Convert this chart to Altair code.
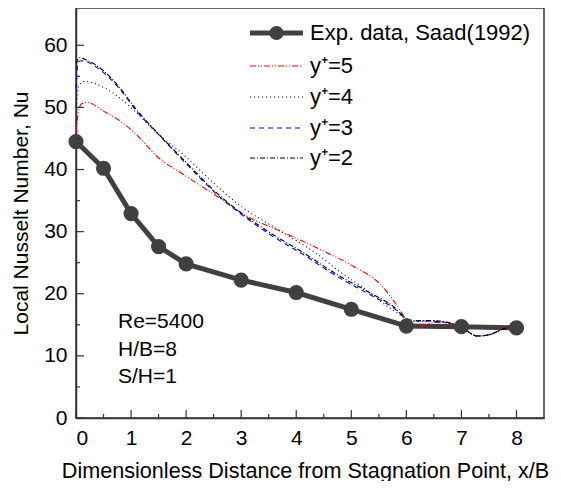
import altair as alt
import pandas as pd

# Experimental data (Saad 1992)
exp_x = [0, 0.5, 1, 1.5, 2, 3, 4, 5, 6, 7, 8]
exp_y = [44.5, 40.2, 32.9, 27.6, 24.8, 22.2, 20.2, 17.5, 14.8, 14.7, 14.5]

# y+=5
y5_x = [0, 0.03, 0.1, 0.2, 0.5, 0.8, 1.1, 1.47, 1.95, 2.56, 3.16, 3.6, 4.44, 5.04, 5.53, 5.86, 6.0, 6.1, 6.22, 6.35, 6.5, 6.86, 7.05, 7.29, 7.5, 7.75, 7.95, 8.0]
y5_y = [45.5, 48.5, 50.6, 50.8, 49.4, 47.8, 45.6, 42.1, 39.2, 35.7, 32.2, 30.5, 27.1, 24.4, 21.5, 17.7, 15.8, 14.9, 14.5, 15.0, 15.4, 15.0, 14.2, 13.2, 13.4, 14.3, 15.3, 15.0]
# y+=4
y4_x = [0, 0.05, 0.16, 0.5, 0.8, 1.1, 1.53, 1.95, 2.5, 3.04, 3.62, 4.44, 4.74, 5.35, 5.65, 5.9, 6.0, 6.2, 6.5, 6.86, 7.05, 7.29, 7.5, 7.75, 8.0]
y4_y = [50.0, 53.5, 54.2, 53.2, 51.5, 49.1, 45.4, 42.4, 37.8, 33.8, 30.6, 26.0, 23.9, 20.1, 18.0, 16.5, 15.8, 15.6, 15.6, 15.1, 14.3, 13.2, 13.4, 14.3, 15.0]
# y+=3
y3_x = [0, 0.04, 0.1, 0.5, 0.8, 1.1, 1.47, 1.95, 2.56, 3.0, 3.53, 4.13, 4.74, 5.35, 5.77, 6.0, 6.13, 6.4, 6.6, 6.86, 7.05, 7.29, 7.5, 7.75, 8.0]
y3_y = [53.0, 57.3, 57.5, 55.6, 52.9, 49.4, 45.9, 41.4, 36.0, 32.8, 29.5, 26.3, 22.8, 19.8, 17.7, 16.0, 15.7, 15.6, 15.5, 15.1, 14.3, 13.2, 13.4, 14.3, 15.0]
# y+=2
y2_x = [0, 0.07, 0.2, 0.5, 0.8, 1.1, 1.47, 1.95, 2.56, 3.0, 3.53, 4.13, 4.74, 5.35, 5.77, 6.0, 6.13, 6.4, 6.6, 6.86, 7.05, 7.29, 7.5, 7.75, 8.0]
y2_y = [57.0, 58.0, 57.6, 55.9, 53.1, 49.6, 46.0, 41.6, 36.2, 33.0, 29.8, 26.6, 23.1, 20.1, 17.9, 16.0, 15.6, 15.7, 15.6, 15.1, 14.3, 13.2, 13.4, 14.3, 15.0]

series_names = ["y\u207a=5", "y\u207a=4", "y\u207a=3", "y\u207a=2"]
series_colors = ["#ff0000", "#000000", "#0000ff", "#000000"]
series_dashes = [[6, 2, 1, 2, 1, 2], [1, 3], [5, 4], [5, 2, 1, 2]]

x_major = [0, 1, 2, 3, 4, 5, 6, 7, 8]
x_minor = [0.5, 1.5, 2.5, 3.5, 4.5, 5.5, 6.5, 7.5]
y_major = [0, 10, 20, 30, 40, 50, 60]
y_minor = [5, 15, 25, 35, 45, 55]

notes = ["Re=5400", "H/B=8", "S/H=1"]

W, H = 468, 410
FONT = "Liberation Sans"
AX = "#333333"
FS = 21

exp_df = pd.DataFrame({"x": exp_x, "y": exp_y})
rows = []
for name, xs_, ys_ in zip(series_names, [y5_x, y4_x, y3_x, y2_x], [y5_y, y4_y, y3_y, y2_y]):
    for i, (a, b) in enumerate(zip(xs_, ys_)):
        rows.append({"series": name, "x": a, "y": b, "order": i})
sim_df = pd.DataFrame(rows)

xs = alt.Scale(domain=[0, 8.5], nice=False, zero=False)
ys = alt.Scale(domain=[0, 66], nice=False)

xaxis = alt.Axis(values=x_major, ticks=False, tickSize=0, labelFontSize=FS, labelFont=FONT,
                 labelColor="black", labelPadding=9, title="Dimensionless Distance from Stagnation Point, x/B",
                 titleFontSize=21.6, titleFont=FONT, titleFontWeight="normal", titlePadding=12,
                 titleX=229, titleAnchor="middle",
                 titleColor="black", grid=False, domainColor=AX, domainWidth=1.5, format="d")
yaxis = alt.Axis(values=y_major, ticks=False, tickSize=0, labelFontSize=FS, labelFont=FONT,
                 labelColor="black", labelPadding=9, title="Local Nusselt Number, Nu",
                 titleFontSize=FS, titleFont=FONT, titleFontWeight="normal", titlePadding=12,
                 titleColor="black", grid=False, domainColor=AX, domainWidth=1.5, format="d")

base = alt.Chart(exp_df)

exp_line = base.mark_line(color="#404040", strokeWidth=5).encode(
    x=alt.X("x:Q", scale=xs, axis=xaxis), y=alt.Y("y:Q", scale=ys, axis=yaxis))
exp_pts = base.mark_circle(color="#404040", size=230, opacity=1).encode(
    x=alt.X("x:Q", scale=xs), y=alt.Y("y:Q", scale=ys))

sim = alt.Chart(sim_df).mark_line(strokeWidth=1.1, interpolate="monotone").encode(
    x=alt.X("x:Q", scale=xs), y=alt.Y("y:Q", scale=ys),
    color=alt.Color("series:N", scale=alt.Scale(domain=series_names, range=series_colors), legend=None),
    strokeDash=alt.StrokeDash("series:N", scale=alt.Scale(domain=series_names, range=series_dashes), legend=None),
    order="order:Q")

# inward ticks
xt_major = alt.Chart(pd.DataFrame({"x": x_major})).mark_rule(color=AX, strokeWidth=1.2).encode(
    x=alt.X("x:Q", scale=xs), y=alt.value(H), y2=alt.value(H - 8))
xt_minor = alt.Chart(pd.DataFrame({"x": x_minor})).mark_rule(color=AX, strokeWidth=1.2).encode(
    x=alt.X("x:Q", scale=xs), y=alt.value(H), y2=alt.value(H - 4))
yt_major = alt.Chart(pd.DataFrame({"y": y_major})).mark_rule(color=AX, strokeWidth=1.2).encode(
    y=alt.Y("y:Q", scale=ys), x=alt.value(0), x2=alt.value(8))
yt_minor = alt.Chart(pd.DataFrame({"y": y_minor})).mark_rule(color=AX, strokeWidth=1.2).encode(
    y=alt.Y("y:Q", scale=ys), x=alt.value(0), x2=alt.value(4))

# annotation text
note_layers = []
for i, t in enumerate(notes):
    note_layers.append(alt.Chart(pd.DataFrame({"t": [t]})).mark_text(
        align="left", baseline="middle", fontSize=FS, font=FONT, color="black").encode(
        text="t:N", x=alt.value(42), y=alt.value(314 + 27.5 * i)))

# manual legend
leg = []
LX1, LX2, LTX = 174, 227, 234
rows_y = [25, 58, 89, 120, 150]
one = pd.DataFrame({"k": [0]})
leg.append(alt.Chart(one).mark_rule(color="#404040", strokeWidth=5).encode(
    x=alt.value(LX1), x2=alt.value(LX2), y=alt.value(rows_y[0])))
leg.append(alt.Chart(one).mark_circle(color="#404040", size=200, opacity=1).encode(
    x=alt.value((LX1 + LX2) / 2), y=alt.value(rows_y[0])))
labels = ["Exp. data, Saad(1992)"] + series_names
for i, lab in enumerate(labels):
    if i > 0:
        leg.append(alt.Chart(one).mark_rule(color=series_colors[i - 1], strokeWidth=1.1,
                                            strokeDash=series_dashes[i - 1]).encode(
            x=alt.value(LX1), x2=alt.value(LX2), y=alt.value(rows_y[i])))
    leg.append(alt.Chart(pd.DataFrame({"t": [lab]})).mark_text(
        align="left", baseline="middle", fontSize=22, font=FONT, color="black").encode(
        text="t:N", x=alt.value(LTX), y=alt.value(rows_y[i])))

chart = alt.layer(exp_line, sim, exp_pts, xt_major, xt_minor, yt_major, yt_minor,
                  *note_layers, *leg).properties(
    width=W, height=H,
    padding={"left": 68, "top": 0, "right": 9, "bottom": 63},
    autosize=alt.AutoSizeParams(type="none"),
).configure_view(stroke=AX, strokeWidth=1.5)

chart.save("out.html", embed_options={"renderer": "svg", "actions": False})
